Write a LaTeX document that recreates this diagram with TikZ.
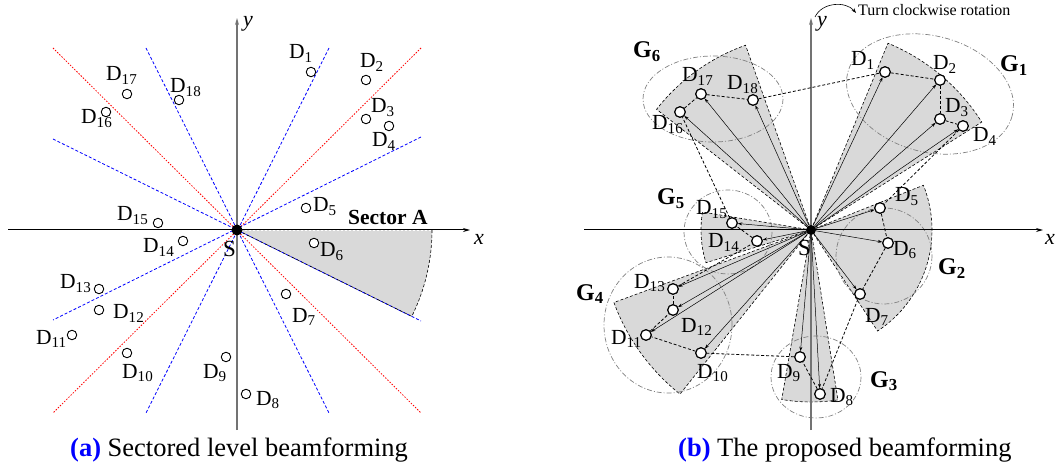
\documentclass[tikz,border=0pt]{standalone}
\usepackage{fontspec}
\setmainfont{Liberation Serif}
\usetikzlibrary{arrows.meta,calc}
\begin{document}
\begin{tikzpicture}[x=1pt,y=-1pt,
  dev/.style={circle,draw,fill=white,inner sep=0pt,minimum size=9.5pt,line width=0.9pt},
  devr/.style={circle,draw,fill=white,inner sep=0pt,minimum size=10.5pt,line width=1.1pt},
  lab/.style={inner sep=0pt,anchor=base west,font=\fontsize{21.5}{24}\selectfont},
  slab/.style={inner sep=0pt,anchor=base west,font=\fontsize{23}{26}\selectfont},
  glab/.style={inner sep=0pt,anchor=base west,font=\fontsize{24}{26}\selectfont\bfseries},
  captxt/.style={inner sep=0pt,anchor=base west,font=\fontsize{26.5}{30}\selectfont},
  bl/.style={blue,dash pattern=on 3pt off 2pt,line width=0.8pt},
  rd/.style={red,dash pattern=on 1.5pt off 1.5pt,line width=0.8pt},
  sec/.style={fill=gray!30,draw=black,dash pattern=on 3pt off 2pt,line width=0.6pt},
  grp/.style={draw=gray,dash pattern=on 5pt off 2pt on 1pt off 2pt,line width=0.7pt},
  ray/.style={-{Stealth[length=4.5pt,width=3pt]},line width=0.5pt},
  tour/.style={dash pattern=on 3pt off 2pt,line width=0.8pt},
  axx/.style={line width=1pt,-{Stealth[length=7pt,width=4pt]}},
  axy/.style={line width=1.5pt,draw=gray!90!black,-{Stealth[length=7pt,width=4pt]}},
  src/.style={circle,fill=black,inner sep=0pt,minimum size=11pt}]
\useasboundingbox (0,0) rectangle (1058,465);
\coordinate (SL) at (237,230);
\coordinate (SR) at (811,230);
% ---------------- left panel ----------------
\fill[gray!30] (SL) -- ++(0:195) arc[start angle=0,end angle=26.3,radius=195] -- cycle;
\draw[rd] (53,48) -- (421,413);
\draw[rd] (421,48) -- (53,413);
\draw[bl] (146,48) -- (329,413);
\draw[bl] (329,48) -- (146,413);
\draw[bl] (53,139) -- (421,321);
\draw[bl] (421,137) -- (53,320);
\draw[black,dash pattern=on 3pt off 2pt,line width=0.6pt] (SL) ++(0:195) arc[start angle=0,end angle=26.3,radius=195] -- (SL);
\draw[axx] (8,230) -- (470,230);
\draw[axy] (237,430) -- (237,18);
\node[inner sep=0pt,anchor=base west,font=\fontsize{22}{24}\selectfont\itshape] (xl) at (474,245) {x};
\node[inner sep=0pt,anchor=base west,font=\fontsize{22}{24}\selectfont\itshape] (yl) at (243,27) {y};
\draw[white,dash pattern=on 2pt off 2pt,line width=0.6pt] (SL) -- ++(0:195);
\node[src] (SLd) at (SL) {};
\node[slab] (SLt) at (223,257) {S};
\node[inner sep=0pt,anchor=base west,font=\fontsize{21.5}{24}\selectfont\bfseries] (secA) at (348,225) {Sector A};
\foreach \i/\dx/\dy in {1/74/-158,2/129/-150,3/129/-111,4/152/-104,5/69/-22,6/77/13,7/49/64,8/9/164,9/-11/127,10/-110/123,11/-165/105,12/-138/80,13/-138/59,14/-54/11,15/-79/-7,16/-131/-118,17/-110/-136,18/-58/-130}
  \node[dev] (L\i) at ($(SL)+(\dx,\dy)$) {};
\foreach \i/\x/\y in {1/289/59,2/360/68,3/371/113,4/372/147,5/313/212,6/320/257,7/292/322,8/256/405,9/203/378,10/122/378,11/36/344,12/113/319,13/60/289,14/143/253,15/117/221,16/81/124,17/106/81,18/170/93}
  \node[lab] (LD\i) at (\x,\y) {D\textsubscript{\i}};
\node[captxt] (capa) at (70,456) {\textcolor{blue}{\textbf{(a)}} Sectored level beamforming};
% ---------------- right panel ----------------
\draw[sec] (SR) -- ++(-32.3:202) arc[start angle=-32.3,end angle=-67.6,radius=202] -- cycle;
\draw[sec] (SR) -- ++(-109.5:196) arc[start angle=-109.5,end angle=-142,radius=196] -- cycle;
\draw[sec] (SR) -- ++(-170.6:110) arc[start angle=-170.6,end angle=-197.3,radius=110] -- cycle;
\draw[sec] (SR) -- ++(-200.2:210) arc[start angle=-200.2,end angle=-231.4,radius=210] -- cycle;
\draw[sec] (SR) -- ++(-260.2:172) arc[start angle=-260.2,end angle=-279,radius=172] -- cycle;
\draw[sec] (SR) -- ++(56.6:121) arc[start angle=56.6,end angle=-21.7,radius=121] -- cycle;
\draw[grp,rotate around={-15:(930,94)}] (930,94) ellipse[x radius=85,y radius=58];
\draw[grp] (713,99) ellipse[x radius=70,y radius=43];
\draw[grp] (728,232) ellipse[x radius=44,y radius=42];
\draw[grp] (668,325) ellipse[x radius=64,y radius=68];
\draw[grp] (816,377) ellipse[x radius=45,y radius=41];
\draw[grp] (884,256) ellipse[x radius=48,y radius=48];
\draw[axx] (584,230) -- (1043,230);
\draw[axy] (SR) ++(0,200) -- (811,18);
\node[inner sep=0pt,anchor=base west,font=\fontsize{22}{24}\selectfont\itshape] (xr) at (1045,245) {x};
\node[inner sep=0pt,anchor=base west,font=\fontsize{22}{24}\selectfont\itshape] (yr) at (817,27) {y};
\foreach \i/\dx/\dy in {1/74/-158,2/129/-150,3/129/-111,4/152/-104,5/69/-22,6/77/13,7/49/64,8/9/164,9/-11/127,10/-110/123,11/-165/105,12/-138/80,13/-138/59,14/-54/11,15/-79/-7,16/-131/-118,17/-110/-136,18/-58/-130}
  \node[devr] (R\i) at ($(SR)+(\dx,\dy)$) {};
\node[src,minimum size=10pt] (SRd) at (SR) {};
\foreach \i in {1,...,18}
  \draw[ray] (SRd) -- (R\i);
\foreach \a/\b in {1/2,2/3,3/4,4/5,5/6,6/7,7/8,8/9,9/10,10/11,11/12,12/13,13/14,14/15,15/16,16/17,17/18,18/1}
  \draw[tour] (R\a) -- (R\b);
\foreach \i in {1,...,18}
  \node[devr] (Rc\i) at (R\i) {};
\node[slab] (SRt) at (798,256) {S};
\foreach \i/\x/\y in {1/851/66,2/933/70,3/945/113,4/973/142,5/895/202,6/893/255,7/865/322,8/830/402,9/777/378,10/697/378,11/611/344,12/681/332,13/634/288,14/708/248,15/696/215,16/652/130,17/682/82,18/727/90}
  \node[lab] (RD\i) at (\x,\y) {D\textsubscript{\i}};
\node[glab] (G1) at (1000,72) {G\textsubscript{1}};
\node[glab] (G2) at (938,275) {G\textsubscript{2}};
\node[glab] (G3) at (870,387) {G\textsubscript{3}};
\node[glab] (G4) at (576,300) {G\textsubscript{4}};
\node[glab] (G5) at (657,205) {G\textsubscript{5}};
\node[glab] (G6) at (633,58) {G\textsubscript{6}};
\coordinate (tc1) at (815,17);
\coordinate (tc2) at (856,13);
\draw[line width=0.6pt,-{Stealth[length=5pt,width=3.5pt]}] (tc1) .. controls (822,2) and (846,1) .. (tc2);
\node[inner sep=0pt,anchor=base west,font=\fontsize{16}{18}\selectfont] (turn) at (858,16) {Turn clockwise rotation};
\node[captxt] (capb) at (678,456) {\textcolor{blue}{\textbf{(b)}} The proposed beamforming};
\end{tikzpicture}
\end{document}
